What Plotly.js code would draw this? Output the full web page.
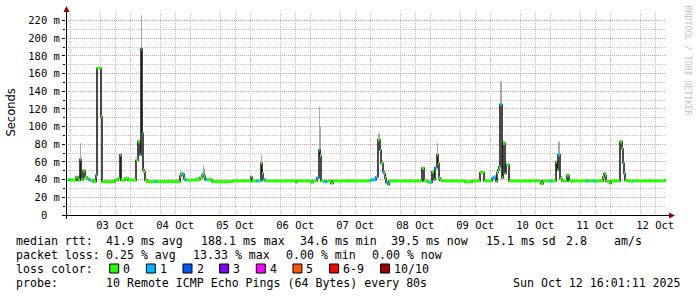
<!DOCTYPE html>
<html><head><meta charset="utf-8">
<script src="https://cdn.plot.ly/plotly-3.0.1.min.js"></script>
<style>html,body{margin:0;padding:0;background:#fff}#chart{width:697px;height:297px}</style>
</head><body><div id="chart"></div>
<script>
// ---- data ----
const startTime = Date.UTC(2025, 9, 2, 16, 20, 0);   // left edge of the graph
const spanHours = 240;                                  // 10 days shown
// hours since start at which each median value begins
const hours = [0.0,1.2,1.6,4.0,4.8,5.6,6.0,6.8,7.6,8.4,9.2,10.0,10.8,12.0,12.4,14.0,14.4,19.6,20.8,21.6,22.0,23.6,24.8,28.0,28.8,29.6,30.0,30.4,30.8,31.2,31.6,32.4,35.6,36.4,45.6,46.0,46.4,47.2,47.6,48.4,52.0,53.6,54.4,54.8,55.2,55.6,56.4,57.6,58.4,66.4,74.0,74.4,76.0,77.2,78.0,78.4,78.8,79.6,92.0,92.4,98.0,98.8,100.4,101.2,101.6,102.0,103.2,104.4,106.0,106.8,121.6,122.8,124.0,124.8,125.6,126.0,126.8,127.2,127.6,128.0,128.8,129.2,142.4,143.2,144.8,145.6,146.4,147.2,147.6,148.4,148.8,149.2,149.6,150.4,159.6,162.4,165.6,167.2,170.4,171.2,172.0,172.4,172.8,173.2,173.6,174.4,174.8,175.6,176.0,176.4,177.2,190.0,190.8,193.6,194.4,196.0,196.4,196.8,197.6,198.4,200.4,201.2,208.0,208.8,210.8,211.6,214.8,215.2,215.6,216.0,216.8,217.6,218.0,221.6,222.4,222.8,223.2,223.6,224.4,226.4,226.8,239.6];
// median rtt in ms
const medianMs = [39.5,40,39.5,43,39.5,63,40,50,43,41,39.5,39.5,37.7,45,166,111,37.7,39.5,41,68,39.5,41.5,39.5,62,83,68,188.1,92.6,51,49,39.5,37.7,37.7,37.7,44,47,46,41,39.5,39.5,40,42,45,46,44,40,40,39.5,37.7,38.5,43,38.5,38.5,38.5,58.5,47,40,38.5,37,38.5,37,38.5,42,73.5,67,38.5,37.7,38.5,36,38.5,39.5,40,43,85,73.5,58.5,49,47,42,36.5,34.6,38.5,53,38.5,37,37,49,40,53.5,68,58.5,42,39.5,38.5,37.5,38.5,48,38.5,41.5,43,38,48,51,54.6,125,42,81,47,56.5,56.5,38.5,35.5,38.5,38.5,38.5,60,51,68,41,38.5,45,38.5,38.5,38.5,38.5,38.5,43,47,45,38.5,37.7,36,38.5,83,75,58.5,47,39.5,38.5,38.5,38.5,39.5];
// lost pings (of 10) for each median value
const lossCount = [0,1,0,0,0,0,0,0,0,0,
                   1,0,0,1,0,0,0,0,0,0,
                   0,0,0,0,0,1,1,1,0,0,
                   0,0,1,0,0,0,1,0,1,0,
                   0,0,0,1,0,1,0,0,0,0,
                   0,0,1,0,0,0,1,0,0,0,
                   0,0,1,1,0,0,1,0,0,0,
                   1,1,1,0,1,0,1,0,0,1,
                   0,0,0,0,0,1,0,0,1,0,
                   0,0,0,0,0,0,0,0,1,1,
                   0,0,0,0,1,0,0,0,1,0,
                   0,0,0,1,0,0,0,1,0,0,
                   0,0,1,0,1,0,0,0,0,0,
                   0,0,0,0,0,1,1,0,0,1,
                   0,0];
// highest ping (top of the smoke) in ms
const smokeMaxMs = [40,40.5,40,44,40,81.5,42,52,44,41.5,40,40,38,46,167,113,38,40,42,69,40,42,40,64,85,72,226,119,60,52,40,38,38,38,45,48,48,42,40,40,42,43,48,56,52,42,41,42,38,39,44,39,39,39,68,52,41,39,37.5,39,37.5,39,43,122.5,100,39,38,39,36.5,39,40,41,44,92.6,78,62,51,48,46,38,35,39,54,39,37.5,37.5,50,41,55,81.5,62,43,40,39,38,39,49,39,42,44,39,50,53,60,151,44,84,49,58,58,39,36,39,39,39,62,53,83,44,39,47,39,39,39,39,39,44,48,46,39,38,36.5,39,84,76,60,48,40,39,39,39,40];

const dayLabels = ['03 Oct','04 Oct','05 Oct','06 Oct','07 Oct','08 Oct','09 Oct','10 Oct','11 Oct','12 Oct'];
const yTickValues = [0,20,40,60,80,100,120,140,160,180,200,220];
const yTickText = ['0\u00a0\u00a0','20 m','40 m','60 m','80 m','100 m','120 m','140 m','160 m','180 m','200 m','220 m'];
const lossLabels = ['0','1','2','3','4','5','6-9','10/10'];
const lossColors = ['#26ff00','#00b8ff','#0059ff','#7e00ff','#ff00fe','#ff5500','#ff0000','#a10000'];
const rttLine = [['median rtt:',16],['41.9 ms avg',106],['188.1 ms max',200.5],['34.6 ms min',300],['39.5 ms now',391],['15.1 ms sd',485.5],['2.8',566],['am/s',614]];
const lossLine = [['packet loss:',16],['0.25 % avg',106],['13.33 % max',193],['0.00 % min',285.5],['0.00 % now',372]];
const probeLine = [['probe:',16],['10 Remote ICMP Echo Pings (64 Bytes) every 80s',106],['Sun Oct 12 16:01:11 2025',512.5]];

// ---- helpers ----
const toDate = h => new Date(startTime + h * 3600000).toISOString().slice(0, 19).replace('T', ' ');
const PL = 66, PW = 600, PB = 215, PH = 202;          // plot box in pixels
const px = x => (x - PL) / PW, py = y => (PB - y) / PH;
const MONO = 'DejaVu Sans Mono';

const xs = hours.map(toDate);
const endDate = toDate(spanHours);
const xsExt = xs.concat([endDate]);
const lastOf = a => a[a.length - 1];

const traces = [];
// smoke (between median and highest ping)
traces.push({x: xsExt, y: medianMs.concat([lastOf(medianMs)]), mode: 'lines', line: {width: 0, shape: 'hv'}, hoverinfo: 'skip', showlegend: false});
traces.push({x: xsExt, y: smokeMaxMs.concat([lastOf(smokeMaxMs)]), mode: 'lines', fill: 'tonexty', fillcolor: 'rgba(100,100,100,0.55)', line: {width: 0, shape: 'hv'}, hoverinfo: 'skip', showlegend: false});
// dark connecting median line
traces.push({x: xsExt, y: medianMs.concat([lastOf(medianMs)]), mode: 'lines', line: {width: 1.6, color: '#1e1e1e', shape: 'hv'}, hoverinfo: 'skip', showlegend: false});
// colored median pieces by loss
const levels = [...new Set(lossCount)];
levels.forEach(lv => {
  const sx = [], sy = [];
  for (let i = 0; i < medianMs.length; i++) {
    if (lossCount[i] !== lv) continue;
    sx.push(xsExt[i], xsExt[i+1], null);
    sy.push(medianMs[i], medianMs[i], null);
  }
  traces.push({x: sx, y: sy, mode: 'lines', connectgaps: false, line: {width: 3, color: lossColors[lv]}, hoverinfo: 'skip', showlegend: false});
});

// x axis grid/tick positions (every 6 h, label at noon)
const gridVals = [], gridText = [];
for (let d = 2; d <= 12; d++) {
  ['06','12','18'].forEach(hh => {
    gridVals.push('2025-10-' + String(d).padStart(2,'0') + ' ' + hh + ':00:00');
    gridText.push(hh === '12' && d >= 3 ? dayLabels[d-3] : '');
  });
}

const annotations = [];
const addText = (t, x, y, extra) => annotations.push(Object.assign({xref: 'paper', yref: 'paper', x: px(x), y: py(y), xanchor: 'left', yanchor: 'middle', text: t, showarrow: false, borderpad: 0, borderwidth: 0, font: {family: MONO, size: 11.6, color: '#000'}}, extra || {}));
rttLine.forEach(([t, x]) => addText(t, x, 241));
lossLine.forEach(([t, x]) => addText(t, x, 255.3));
addText('loss color:', 16, 268.7);
probeLine.forEach(([t, x]) => addText(t, x, 283));

const shapes = [];
lossLabels.forEach((lab, i) => {
  const sx = i < 7 ? 109.7 + 36.65 * i : 380.5;
  shapes.push({type: 'rect', xref: 'paper', yref: 'paper', x0: px(sx), x1: px(sx + 9), y0: py(273), y1: py(264), fillcolor: lossColors[i], line: {color: '#000', width: 1}});
  addText(lab, sx + 13.5, 268.7);
});
// axis lines and arrows
shapes.push({type: 'line', xref: 'paper', yref: 'paper', x0: px(66.5), x1: px(66.5), y0: py(219), y1: py(10), line: {color: '#000', width: 1}});
shapes.push({type: 'line', xref: 'paper', yref: 'paper', x0: px(62), x1: px(670), y0: py(215.5), y1: py(215.5), line: {color: '#000', width: 1}});
shapes.push({type: 'path', xref: 'paper', yref: 'paper', path: 'M ' + px(63.5) + ' ' + py(12) + ' L ' + px(69.5) + ' ' + py(12) + ' L ' + px(66.5) + ' ' + py(6) + ' Z', fillcolor: '#8b0000', line: {width: 0}});
shapes.push({type: 'path', xref: 'paper', yref: 'paper', path: 'M ' + px(669) + ' ' + py(212.5) + ' L ' + px(669) + ' ' + py(218.5) + ' L ' + px(675) + ' ' + py(215.5) + ' Z', fillcolor: '#8b0000', line: {width: 0}});

annotations.push({xref: 'paper', yref: 'paper', x: px(10.5), y: py(113), text: 'Seconds', textangle: -90, showarrow: false, xanchor: 'center', yanchor: 'middle', font: {family: 'DejaVu Sans', size: 11.5, color: '#000'}});
annotations.push({xref: 'paper', yref: 'paper', x: px(687.5), y: py(60), text: 'RRDTOOL / TOBI OETIKER', textangle: 90, showarrow: false, xanchor: 'center', yanchor: 'middle', font: {family: MONO, size: 8.3, color: '#c4c4c4'}});

const minorGrid = 'rgba(175,175,175,0.75)';
const majorGrid = 'rgba(230,120,120,0.6)';
const layout = {
  width: 697, height: 297,
  margin: {l: PL, r: 697 - PL - PW, t: PB - PH, b: 297 - PB, pad: 0},
  paper_bgcolor: '#fff', plot_bgcolor: '#fff',
  showlegend: false,
  xaxis: {type: 'date', range: [toDate(0), endDate], tickmode: 'array', tickvals: gridVals, ticktext: gridText,
          showgrid: true, gridcolor: minorGrid, griddash: '1px,1px', gridwidth: 1, ticks: '', ticklabelstandoff: 2, zeroline: false, showline: false,
          tickfont: {family: MONO, size: 10.5, color: '#000'}, fixedrange: true},
  xaxis2: {type: 'date', overlaying: 'x', anchor: 'y', range: [toDate(0), endDate], tickmode: 'linear', tick0: '2025-10-03 00:00:00', dtick: 86400000,
           showgrid: true, gridcolor: majorGrid, griddash: '1px,1px', gridwidth: 1, showticklabels: false, ticks: '', zeroline: false, showline: false},
  yaxis: {range: [0, 228.5], tickmode: 'array', tickvals: yTickValues, ticktext: yTickText,
          showgrid: true, gridcolor: majorGrid, griddash: '1px,1px', gridwidth: 1, zeroline: false, showline: false,
          ticks: 'outside', ticklen: 3, tickcolor: '#000', tickfont: {family: MONO, size: 10.5, color: '#000'},
          minor: {tickmode: 'linear', tick0: 0, dtick: 10, showgrid: true, gridcolor: minorGrid, griddash: '1px,1px', ticks: 'outside', ticklen: 2, tickcolor: '#000'}, fixedrange: true},
  shapes: shapes,
  annotations: annotations
};
Plotly.newPlot('chart', traces, layout, {displayModeBar: false, staticPlot: true});
</script>
</body></html>
